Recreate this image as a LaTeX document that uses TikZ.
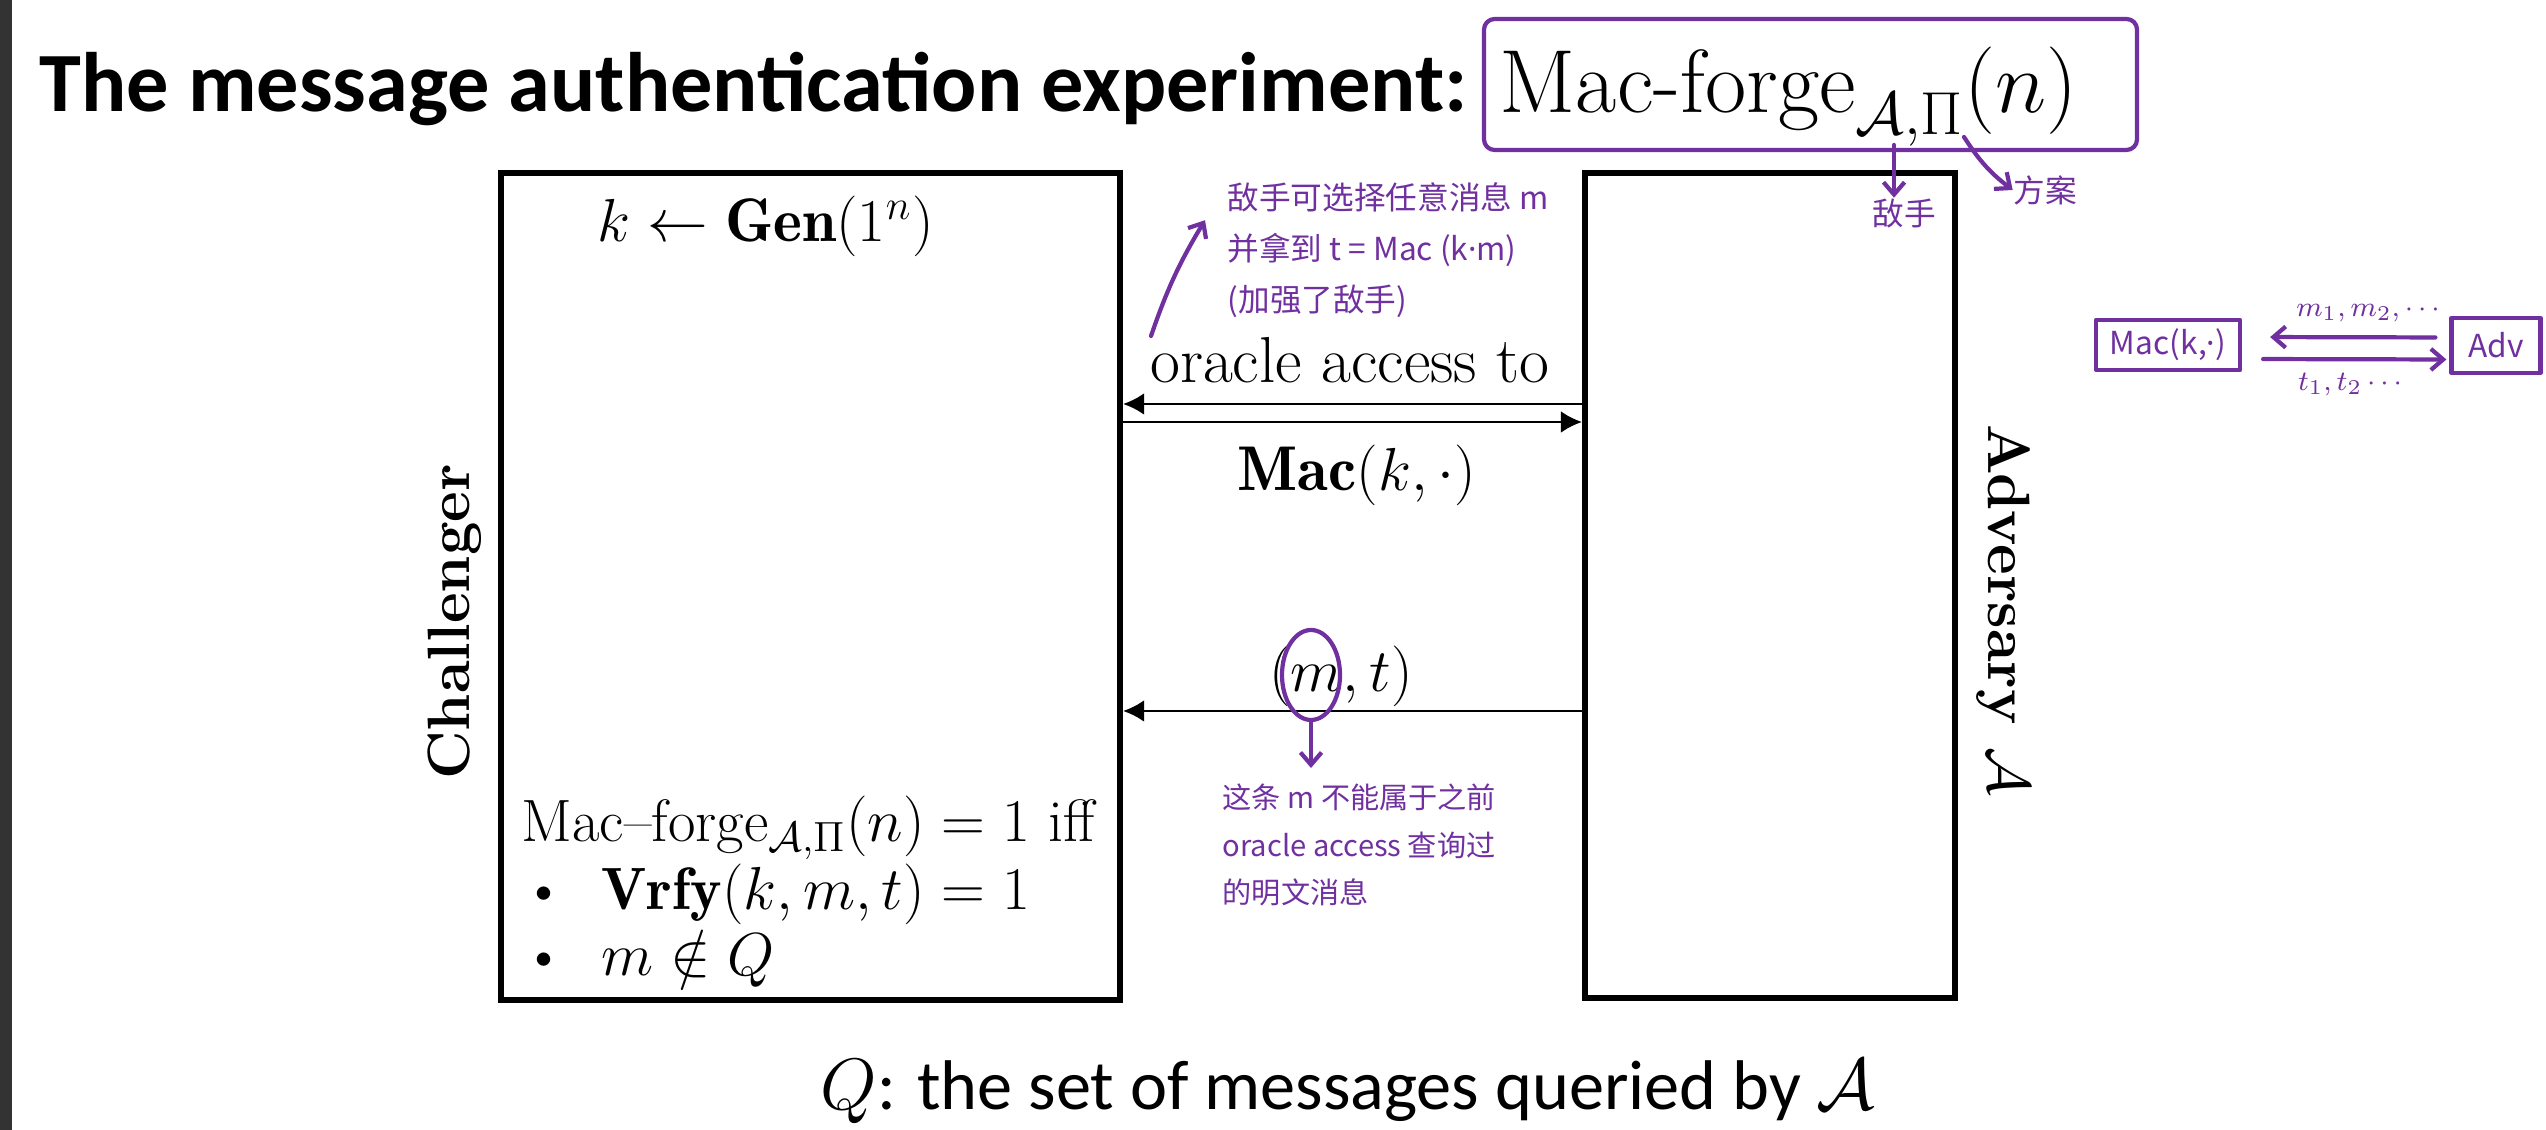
\documentclass[tikz,border=0pt]{standalone}
\usepackage{fontspec}
\usetikzlibrary{arrows.meta,positioning,shapes.geometric}
\newfontfamily\calib{Carlito}
\newfontfamily\cjk{Noto Sans CJK SC}
\newfontfamily\latinhand{Noto Sans}
\definecolor{inkpurple}{RGB}{112,48,160}
\newcommand{\bodysize}{\fontsize{17}{20}\selectfont}

\begin{document}
\begin{tikzpicture}[
  party/.style={draw,line width=1.7pt,inner sep=0pt},
  msg/.style={-{Latex[length=6pt,width=6.2pt]},line width=0.8pt},
  txt/.style={font=\bodysize,inner sep=0pt},
  ink/.style={inkpurple,line width=1.2pt,line cap=round,line join=round},
  inkarr/.style={ink,-{Straight Barb[length=3.5pt,width=6pt]}},
  note/.style={inkpurple,font=\cjk\fontsize{9}{14.5}\selectfont,align=left,inner sep=0pt}
]
\useasboundingbox (0,0) rectangle (25.46,-11.30);

% slide edge
\fill[black!80] (0,0) rectangle (0.12,-11.30);

% Title
\node[anchor=base west,inner sep=0pt,font=\calib\bfseries\fontsize{24}{28}\selectfont] (title) at (0.39,-1.12) {The message authentication experiment:};
\node[anchor=base west,inner sep=0pt,font=\fontsize{25.5}{30}\selectfont] (game) at (14.99,-1.13) {$\textrm{Mac-forge}_{\mathcal{A},\Pi}(n)$};

% Parties
\node[party,minimum width=6.19cm,minimum height=8.27cm] (chal) at (8.105,-5.865) {};
\node[party,minimum width=3.70cm,minimum height=8.25cm] (adv) at (17.70,-5.855) {};
\node[rotate=90,inner sep=0pt,font=\bfseries\fontsize{17}{20}\selectfont] (challenger) at (4.55,-6.22) {Challenger};
\node[rotate=-90,inner sep=0pt,font=\bfseries\fontsize{17}{20}\selectfont] (adversary) at (20.03,-6.10) {Adversary $\mathcal{A}$};

% Inside the challenger
\node[txt,anchor=base west,font=\fontsize{17.5}{20}\selectfont] (keygen) at (5.97,-2.42) {$k \leftarrow \mathbf{Gen}(1^n)$};
\node[txt,anchor=base west] (verdict) at (5.21,-8.42) {Mac–forge$_{\mathcal{A},\Pi}(n)=1$ iff};
\node[txt,anchor=base west] (cond1) at (5.22,-9.10) {\makebox[0.79cm][l]{\textbullet}$\mathbf{Vrfy}(k,m,t)=1$};
\node[txt,anchor=base west] (cond2) at (5.22,-9.76) {\makebox[0.79cm][l]{\textbullet}$m\notin Q$};

% Messages
\node[txt,anchor=base,font=\fontsize{18.5}{22}\selectfont] (oracle) at (13.50,-3.83) {oracle access to};
\node[txt,anchor=base,font=\fontsize{18}{22}\selectfont] (macq) at (13.57,-4.91) {$\mathbf{Mac}(k,\cdot)$};
\node[txt,anchor=base] (forge) at (13.41,-6.92) {$(m,t)$};
\draw[msg] (adv.west |- 0,-4.04) -- (chal.east |- 0,-4.04);
\draw[msg] (chal.east |- 0,-4.22) -- (adv.west |- 0,-4.22);
\draw[msg] (adv.west |- 0,-7.11) -- (chal.east |- 0,-7.11);

% Footnote
\node[anchor=base west,inner sep=0pt,font=\calib\fontsize{20}{24}\selectfont] (qdef) at (8.20,-11.10) {$Q$: the set of messages queried by $\mathcal{A}$};

% Handwritten notes
\draw[ink,rounded corners=3pt] (14.84,-0.19) rectangle (21.37,-1.50);
\coordinate (subA) at (18.94,-1.45);
\coordinate (subPi) at (19.64,-1.37);
\node[note] (dishou) at (19.04,-2.13) {敌手};
\node[note] (fangan) at (20.45,-1.90) {方案};
\draw[inkarr] (subA) -- (subA |- dishou.north);
\draw[inkarr] (subPi) to[bend right=10] (fangan.west);

\node[note,anchor=north west] (note1) at (12.27,-1.82) {敌手可选择任意消息 m\\并拿到 t = Mac (k{\latinhand ·}m)\\(加强了敌手)};
\coordinate (tail1) at (11.51,-3.36);
\draw[inkarr] (tail1) to[bend left=6] ([xshift=-0.22cm,yshift=0.30cm]note1.west);

\node[ink,draw,ellipse,minimum width=0.58cm,minimum height=0.9cm,inner sep=0pt] (mring) at (13.11,-6.75) {};
\node[note,anchor=north west,font=\cjk\fontsize{8.3}{13.6}\selectfont] (note3) at (12.22,-7.83) {这条 m 不能属于之前\\oracle access 查询过\\的明文消息};
\draw[inkarr,shorten >=0.15cm] (mring.south) -- (mring.south |- note3.north);

% Oracle sketch
\node[ink,draw,minimum width=1.44cm,minimum height=0.50cm,inner sep=0pt,font=\cjk\fontsize{9}{10}\selectfont] (macbox) at (21.68,-3.45) {Mac(k,{\latinhand ·})};
\node[ink,draw,minimum width=0.89cm,minimum height=0.55cm,inner sep=0pt,font=\cjk\fontsize{9}{10}\selectfont] (advbox) at (24.96,-3.455) {Adv};
\draw[inkarr,shorten <=0.14cm,shorten >=0.28cm] ([yshift=0.08cm]advbox.west) -- ([yshift=0.08cm]macbox.east);
\draw[inkarr,shorten <=0.21cm,shorten >=0.03cm] ([yshift=-0.14cm]macbox.east) -- ([yshift=-0.14cm]advbox.west);
\node[inkpurple,inner sep=0pt,font=\fontsize{8}{9}\selectfont] (mlist) at (23.68,-3.13) {$m_1,m_2,\cdots$};
\node[inkpurple,inner sep=0pt,font=\fontsize{8}{9}\selectfont] (tlist) at (23.50,-3.85) {$t_1,t_2\cdots$};

\end{tikzpicture}
\end{document}
